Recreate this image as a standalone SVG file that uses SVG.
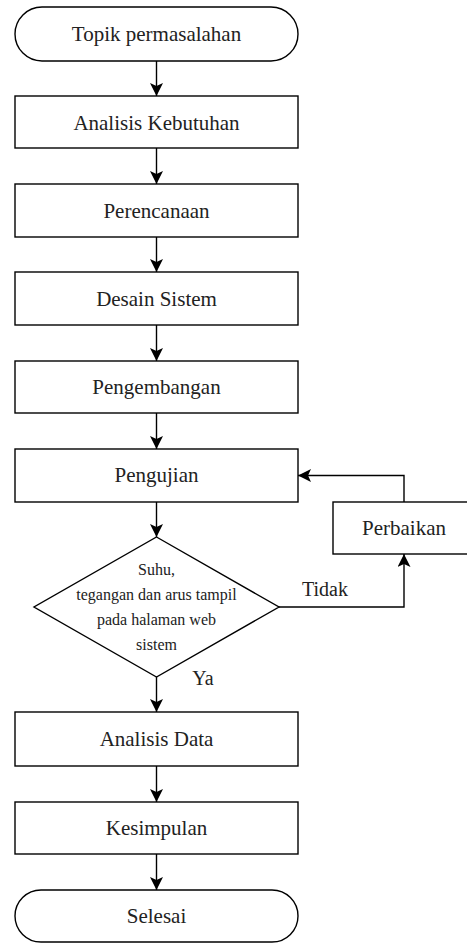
<svg xmlns="http://www.w3.org/2000/svg" width="467" height="943" viewBox="0 0 467 943">
<style>
.box{fill:#fff;stroke:#000;stroke-width:1.4}
.t{font-family:'Liberation Serif','Times New Roman',serif;font-size:21px;fill:#222;text-anchor:middle}
.l{font-family:'Liberation Serif','Times New Roman',serif;font-size:20px;fill:#222;text-anchor:middle}
.s{font-family:'Liberation Serif','Times New Roman',serif;font-size:16px;fill:#222;text-anchor:middle}
.c{fill:none;stroke:#000;stroke-width:1.4}
</style>
<defs>
<marker id="ah" markerUnits="userSpaceOnUse" markerWidth="14" markerHeight="14" refX="13" refY="6.5" orient="auto">
<path d="M0,0 L13,6.5 L0,13 L3,6.5 z" fill="#000"/>
</marker>
</defs>
<rect width="467" height="943" fill="#fff"/>
<g id="connectors">
<line class="c" x1="156.5" y1="61" x2="156.5" y2="96" marker-end="url(#ah)"/>
<line class="c" x1="156.5" y1="148" x2="156.5" y2="184" marker-end="url(#ah)"/>
<line class="c" x1="156.5" y1="237" x2="156.5" y2="272" marker-end="url(#ah)"/>
<line class="c" x1="156.5" y1="325" x2="156.5" y2="361" marker-end="url(#ah)"/>
<line class="c" x1="156.5" y1="413" x2="156.5" y2="449" marker-end="url(#ah)"/>
<line class="c" x1="156.5" y1="502" x2="156.5" y2="537" marker-end="url(#ah)"/>
<line class="c" x1="156.5" y1="677" x2="156.5" y2="712" marker-end="url(#ah)"/>
<line class="c" x1="156.5" y1="766" x2="156.5" y2="802" marker-end="url(#ah)"/>
<line class="c" x1="156.5" y1="854" x2="156.5" y2="890" marker-end="url(#ah)"/>
<polyline class="c" points="279,607 404,607 404,554" marker-end="url(#ah)"/>
<polyline class="c" points="404,502 404,475.5 298,475.5" marker-end="url(#ah)"/>
<text class="l" x="325" y="596">Tidak</text>
<text class="l" x="203" y="685">Ya</text>
</g>
<g id="start">
<rect class="box" x="15" y="7" width="283" height="54" rx="27" ry="27"/>
<text class="t" x="156.5" y="40.5">Topik permasalahan</text>
</g>
<g id="analisis-kebutuhan">
<rect class="box" x="15" y="96" width="283" height="52"/>
<text class="t" x="156.5" y="129.5">Analisis Kebutuhan</text>
</g>
<g id="perencanaan">
<rect class="box" x="15" y="184" width="283" height="53"/>
<text class="t" x="156.5" y="217.5">Perencanaan</text>
</g>
<g id="desain-sistem">
<rect class="box" x="15" y="272" width="283" height="53"/>
<text class="t" x="156.5" y="305.5">Desain Sistem</text>
</g>
<g id="pengembangan">
<rect class="box" x="15" y="361" width="283" height="52"/>
<text class="t" x="156.5" y="393.5">Pengembangan</text>
</g>
<g id="pengujian">
<rect class="box" x="15" y="449" width="283" height="53"/>
<text class="t" x="156.5" y="482">Pengujian</text>
</g>
<g id="keputusan">
<polygon class="box" points="156.5,537 279,607 156.5,677 34,607"/>
<text class="s" x="156.5" y="575">Suhu,</text>
<text class="s" x="156.5" y="600">tegangan dan arus tampil</text>
<text class="s" x="156.5" y="625">pada halaman web</text>
<text class="s" x="156.5" y="650">sistem</text>
</g>
<g id="perbaikan">
<rect class="box" x="333" y="502" width="142" height="52"/>
<text class="t" x="404" y="534.5">Perbaikan</text>
</g>
<g id="analisis-data">
<rect class="box" x="15" y="712" width="283" height="54"/>
<text class="t" x="156.5" y="746">Analisis Data</text>
</g>
<g id="kesimpulan">
<rect class="box" x="15" y="802" width="283" height="52"/>
<text class="t" x="156.5" y="835">Kesimpulan</text>
</g>
<g id="selesai">
<rect class="box" x="15" y="890" width="283" height="52" rx="26" ry="26"/>
<text class="t" x="156.5" y="923">Selesai</text>
</g>
</svg>
